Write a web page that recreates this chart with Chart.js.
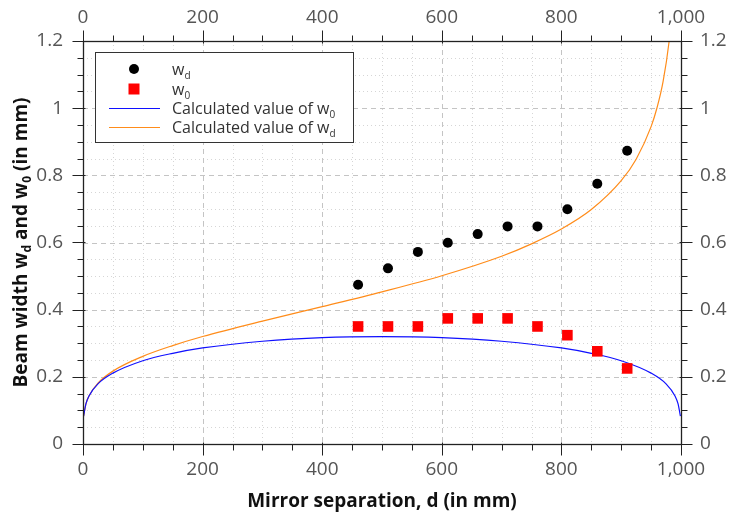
<!DOCTYPE html>
<html>
<head>
<meta charset="utf-8">
<script src="https://cdn.jsdelivr.net/npm/chart.js@4.4.0/dist/chart.umd.min.js"></script>
<style>
  html, body { margin: 0; padding: 0; background: #fff; }
  #wrap { width: 730px; height: 516px; }
</style>
</head>
<body>
<div id="wrap"><canvas id="myChart"></canvas></div>
<script>
// Measured beam widths (mm) vs mirror separation (mm)
const sepMeasured = [460, 510, 560, 610, 660, 710, 760, 810, 860, 910];
const wdMeasured = [0.474, 0.523, 0.572, 0.599, 0.625, 0.648, 0.648, 0.699, 0.775, 0.873];
const w0Measured = [0.35, 0.35, 0.35, 0.374, 0.374, 0.374, 0.35, 0.324, 0.276, 0.225];

// Calculated curves
const sepW0Calc = [1, 5, 10, 25, 50, 100, 150, 200, 300, 400, 500, 600, 700, 800, 850, 900, 950, 975, 990, 995, 999];
const w0Calc = [0.083, 0.12, 0.143, 0.179, 0.211, 0.248, 0.27, 0.286, 0.306, 0.317, 0.32, 0.317, 0.306, 0.286, 0.27, 0.248, 0.211, 0.179, 0.143, 0.12, 0.083];
const sepWdCalc = [1, 5, 10, 25, 50, 100, 150, 200, 300, 400, 500, 600, 700, 750, 800, 850, 900, 925, 950, 960, 970, 980, 985];
const wdCalc = [0.083, 0.12, 0.143, 0.181, 0.217, 0.261, 0.293, 0.32, 0.366, 0.409, 0.453, 0.501, 0.559, 0.596, 0.64, 0.698, 0.784, 0.848, 0.945, 1.002, 1.079, 1.197, 1.289];

// Tick labels
const xTickValues = [0, 200, 400, 600, 800, 1000];
const yTickValues = [0, 0.2, 0.4, 0.6, 0.8, 1, 1.2];

const pts = (xs, ys) => xs.map((v, i) => ({ x: v, y: ys[i] }));
const fmt = v => Number(v.toFixed(2)).toLocaleString('en-US');

const tickFont = { family: 'Open Sans', size: 19 };
const tickColor = '#555';

// draw text with subscripts, parts = [[text, isSub], ...]
function drawParts(ctx, parts, x, y, size, bold) {
  let cx = x;
  parts.forEach(([t, sub]) => {
    const s = sub ? Math.round(size * 0.62) : size;
    ctx.font = (bold ? 'bold ' : '') + s + 'px "Open Sans"';
    ctx.fillText(t, cx, sub ? y + size * 0.22 : y);
    cx += ctx.measureText(t).width;
  });
  return cx - x;
}
function partsWidth(ctx, parts, size, bold) {
  let w = 0;
  parts.forEach(([t, sub]) => {
    const s = sub ? Math.round(size * 0.62) : size;
    ctx.font = (bold ? 'bold ' : '') + s + 'px "Open Sans"';
    w += ctx.measureText(t).width;
  });
  return w;
}

const frame = {
  id: 'frame',
  beforeDatasetsDraw(chart) {
    const { ctx, chartArea: a, scales: { x, y } } = chart;
    ctx.save();
    ctx.lineWidth = 1;
    // minor grid, dotted
    ctx.strokeStyle = '#d6d6d6';
    ctx.setLineDash([1, 3]);
    ctx.beginPath();
    for (let v = 50; v < 1000; v += 50) {
      if (v % 200 === 0) continue;
      const px = Math.round(x.getPixelForValue(v)) + 0.5;
      ctx.moveTo(px, a.top); ctx.lineTo(px, a.bottom);
    }
    for (let k = 1; k < 24; k++) {
      if (k % 4 === 0) continue;
      const py = Math.round(y.getPixelForValue(k * 0.05)) + 0.5;
      ctx.moveTo(a.left, py); ctx.lineTo(a.right, py);
    }
    ctx.stroke();
    // major grid, dashed
    ctx.strokeStyle = '#c4c4c4';
    ctx.setLineDash([5, 4]);
    ctx.beginPath();
    xTickValues.slice(1, -1).forEach(v => {
      const px = Math.round(x.getPixelForValue(v)) + 0.5;
      ctx.moveTo(px, a.top); ctx.lineTo(px, a.bottom);
    });
    yTickValues.slice(1, -1).forEach(v => {
      const py = Math.round(y.getPixelForValue(v)) + 0.5;
      ctx.moveTo(a.left, py); ctx.lineTo(a.right, py);
    });
    ctx.stroke();
    ctx.restore();
  },
  afterDraw(chart) {
    const { ctx, chartArea: a, scales: { x, y } } = chart;
    ctx.save();
    // axes box
    ctx.strokeStyle = '#222';
    ctx.lineWidth = 1.3;
    const L = Math.round(a.left) + 0.5, R = Math.round(a.right) + 0.5;
    const T = Math.round(a.top) + 0.5, B = Math.round(a.bottom) + 0.5;
    ctx.strokeRect(L, T, R - L, B - T);
    // ticks, outward
    ctx.lineWidth = 1;
    ctx.beginPath();
    for (let v = 0; v <= 1000; v += 50) {
      const px = Math.round(x.getPixelForValue(v)) + 0.5;
      const major = v % 200 === 0;
      const out = major ? 11 : 6, inn = major ? 2 : 0;
      ctx.moveTo(px, B - inn); ctx.lineTo(px, B + out);
      ctx.moveTo(px, T + inn); ctx.lineTo(px, T - out);
    }
    for (let k = 0; k <= 24; k++) {
      const py = Math.round(y.getPixelForValue(k * 0.05)) + 0.5;
      const major = k % 4 === 0;
      const out = major ? 11 : 6, inn = major ? 2 : 0;
      ctx.moveTo(L + inn, py); ctx.lineTo(L - out, py);
      ctx.moveTo(R - inn, py); ctx.lineTo(R + out, py);
    }
    ctx.stroke();

    // axis titles
    ctx.fillStyle = '#111';
    ctx.textBaseline = 'alphabetic';
    ctx.textAlign = 'left';
    const xt = [['Mirror separation, d (in mm)', false]];
    const xw = partsWidth(ctx, xt, 19, true);
    drawParts(ctx, xt, (a.left + a.right) / 2 - xw / 2, 507, 19, true);
    const yt = [['Beam width w', false], ['d', true], [' and w', false], ['0', true], [' (in mm)', false]];
    const yw = partsWidth(ctx, yt, 19, true);
    ctx.save();
    ctx.translate(27, (a.top + a.bottom) / 2);
    ctx.rotate(-Math.PI / 2);
    drawParts(ctx, yt, -yw / 2, 0, 19, true);
    ctx.restore();

    // legend
    const lx = 95.5, ly = 52.5, lw = 258, lh = 90;
    ctx.fillStyle = '#fff';
    ctx.fillRect(lx, ly, lw, lh);
    ctx.strokeStyle = '#333';
    ctx.lineWidth = 1;
    ctx.strokeRect(lx, ly, lw, lh);
    const ds = chart.data.datasets;
    const rows = [69, 89, 108, 127];
    const labels = [
      [['w', false], ['d', true]],
      [['w', false], ['0', true]],
      [['Calculated value of w', false], ['0', true]],
      [['Calculated value of w', false], ['d', true]]
    ];
    rows.forEach((ry, i) => {
      const d = ds[i];
      if (d.showLine) {
        ctx.strokeStyle = d.borderColor;
        ctx.lineWidth = d.borderWidth;
        ctx.beginPath();
        ctx.moveTo(109, ry + 0.5); ctx.lineTo(160, ry + 0.5);
        ctx.stroke();
      } else {
        ctx.fillStyle = d.backgroundColor;
        ctx.beginPath();
        if (d.pointStyle === 'rect') {
          ctx.rect(134 - 5.5, ry - 5.5, 11, 11);
        } else {
          ctx.arc(134, ry, 5, 0, Math.PI * 2);
        }
        ctx.fill();
      }
      ctx.fillStyle = '#333';
      drawParts(ctx, labels[i], 172, ry + 6, 16, false);
    });
    ctx.restore();
  }
};

const ctx = document.getElementById('myChart').getContext('2d');
const myChart = new Chart(ctx, {
  type: 'scatter',
  data: {
    datasets: [
      {
        label: 'wd',
        data: pts(sepMeasured, wdMeasured),
        backgroundColor: '#000',
        borderColor: '#000',
        pointStyle: 'circle',
        pointRadius: 5,
        pointBorderWidth: 0
      },
      {
        label: 'w0',
        data: pts(sepMeasured, w0Measured),
        backgroundColor: '#ff0000',
        borderColor: '#ff0000',
        pointStyle: 'rect',
        pointRadius: 7.5,
        pointBorderWidth: 0
      },
      {
        label: 'Calculated value of w0',
        data: pts(sepW0Calc, w0Calc),
        showLine: true,
        borderColor: '#1010ff',
        borderWidth: 1.2,
        pointRadius: 0,
        cubicInterpolationMode: 'monotone'
      },
      {
        label: 'Calculated value of wd',
        data: pts(sepWdCalc, wdCalc),
        showLine: true,
        borderColor: '#ff8c1a',
        borderWidth: 1.2,
        pointRadius: 0,
        cubicInterpolationMode: 'monotone'
      }
    ]
  },
  options: {
    responsive: true,
    maintainAspectRatio: false,
    animation: false,
    events: [],
    layout: { padding: 0 },
    plugins: { legend: { display: false }, tooltip: { enabled: false } },
    scales: {
      x: {
        type: 'linear', position: 'bottom', min: 0, max: 1000,
        afterBuildTicks: s => { s.ticks = xTickValues.map(v => ({ value: v })); },
        afterFit: s => { s.height = 72; },
        ticks: { font: tickFont, color: tickColor, padding: 14, maxRotation: 0, autoSkip: false, callback: fmt },
        grid: { display: false, drawTicks: false },
        border: { display: false }
      },
      x2: {
        type: 'linear', position: 'top', min: 0, max: 1000,
        afterBuildTicks: s => { s.ticks = xTickValues.map(v => ({ value: v })); },
        afterFit: s => { s.height = 41; },
        ticks: { font: tickFont, color: tickColor, padding: 12, maxRotation: 0, autoSkip: false, callback: fmt },
        grid: { display: false, drawTicks: false },
        border: { display: false }
      },
      y: {
        type: 'linear', position: 'left', min: 0, max: 1.2,
        afterBuildTicks: s => { s.ticks = yTickValues.map(v => ({ value: v })); },
        afterFit: s => { s.width = 83; },
        ticks: { font: tickFont, color: tickColor, padding: 20, autoSkip: false, callback: fmt },
        grid: { display: false, drawTicks: false },
        border: { display: false }
      },
      y2: {
        type: 'linear', position: 'right', min: 0, max: 1.2,
        afterBuildTicks: s => { s.ticks = yTickValues.map(v => ({ value: v })); },
        afterFit: s => { s.width = 49; },
        ticks: { font: tickFont, color: tickColor, padding: 19, autoSkip: false, callback: fmt },
        grid: { display: false, drawTicks: false },
        border: { display: false }
      }
    }
  },
  plugins: [frame]
});
</script>
</body>
</html>
